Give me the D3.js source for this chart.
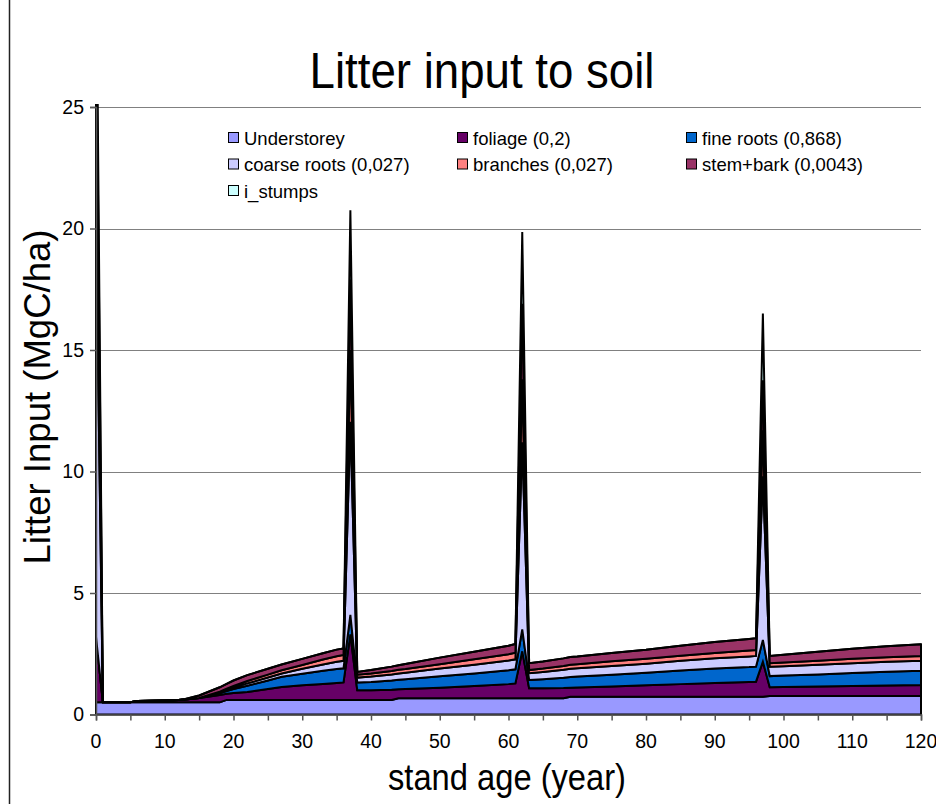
<!DOCTYPE html>
<html>
<head>
<meta charset="utf-8">
<script src="https://cdn.jsdelivr.net/npm/d3@7"></script>
<style>
  html, body { margin: 0; padding: 0; background: #fff; }
  svg { display: block; font-family: "Liberation Sans", Arial, sans-serif; }
</style>
</head>
<body>
<svg id="chart" width="936" height="804"></svg>
<script>
// Stand age (years) at which litter inputs are given
const ages = [0, 1, 2, 5, 6, 10, 12, 13, 15, 18, 19, 20, 22, 25, 27, 30, 33, 35, 36, 37, 38, 40, 43, 44, 45, 50,
  55, 60, 61, 62, 63, 65, 68, 69, 70, 75, 80, 85, 90, 95, 96, 97, 98, 100, 105, 110, 115, 120];

// Litter input per pool (MgC/ha), one value per age above
const understorey = [0.5, 0.5, 0.5, 0.5, 0.5, 0.5, 0.5, 0.5, 0.5, 0.5, 0.6, 0.6, 0.6, 0.6, 0.6, 0.6, 0.6, 0.6, 0.6, 0.6, 0.6, 0.6, 0.6, 0.67, 0.67, 0.67,
  0.67, 0.67, 0.67, 0.67, 0.67, 0.67, 0.67, 0.73, 0.73, 0.73, 0.73, 0.73, 0.73, 0.73, 0.73, 0.73, 0.76, 0.76, 0.76, 0.76, 0.76, 0.76];
const foliage = [2.7, 0, 0, 0, 0.06, 0.08, 0.1, 0.12, 0.18, 0.3, 0.25, 0.28, 0.33, 0.45, 0.53, 0.6, 0.66, 0.7, 0.72, 2.7, 0.4, 0.4, 0.42, 0.37, 0.38, 0.43,
  0.5, 0.58, 0.61, 1.93, 0.41, 0.41, 0.42, 0.37, 0.38, 0.42, 0.47, 0.52, 0.57, 0.61, 0.62, 1.44, 0.36, 0.37, 0.39, 0.41, 0.43, 0.45];
const fineRoots = [0, 0, 0, 0, 0, 0, 0, 0, 0, 0.08, 0.12, 0.17, 0.25, 0.35, 0.42, 0.48, 0.54, 0.57, 0.58, 0.8, 0.32, 0.34, 0.38, 0.39, 0.4, 0.47,
  0.52, 0.57, 0.58, 0.9, 0.34, 0.37, 0.42, 0.44, 0.45, 0.49, 0.52, 0.56, 0.59, 0.61, 0.62, 0.9, 0.46, 0.47, 0.5, 0.54, 0.57, 0.59];
const coarseRoots = [17.0, 0, 0, 0, 0, 0, 0, 0, 0, 0.04, 0.05, 0.07, 0.1, 0.12, 0.14, 0.2, 0.26, 0.3, 0.31, 7.95, 0.2, 0.22, 0.25, 0.26, 0.27, 0.32,
  0.36, 0.4, 0.41, 7.7, 0.28, 0.3, 0.33, 0.34, 0.34, 0.36, 0.37, 0.4, 0.42, 0.44, 0.44, 6.73, 0.39, 0.39, 0.4, 0.4, 0.41, 0.41];
const branches = [6.0, 0, 0, 0, 0, 0, 0, 0, 0, 0.02, 0.04, 0.06, 0.1, 0.12, 0.13, 0.16, 0.2, 0.23, 0.24, 2.95, 0.12, 0.13, 0.14, 0.15, 0.15, 0.18,
  0.22, 0.26, 0.27, 2.6, 0.13, 0.14, 0.16, 0.17, 0.17, 0.19, 0.2, 0.21, 0.22, 0.24, 0.24, 1.9, 0.14, 0.15, 0.16, 0.18, 0.19, 0.2];
const stemBark = [4.0, 0, 0, 0, 0, 0, 0, 0.02, 0.1, 0.18, 0.2, 0.22, 0.24, 0.24, 0.24, 0.25, 0.26, 0.27, 0.27, 2.9, 0.11, 0.14, 0.18, 0.19, 0.21, 0.27,
  0.31, 0.35, 0.36, 3.1, 0.28, 0.29, 0.31, 0.32, 0.32, 0.34, 0.37, 0.41, 0.45, 0.48, 0.49, 2.05, 0.3, 0.32, 0.37, 0.42, 0.45, 0.48];
const stumps = [3.0, 0, 0, 0, 0, 0, 0, 0, 0, 0, 0, 0, 0, 0, 0, 0, 0, 0, 0, 2.85, 0, 0, 0, 0, 0, 0,
  0, 0, 0, 2.96, 0, 0, 0, 0, 0, 0, 0, 0, 0, 0, 0, 2.75, 0, 0, 0, 0, 0, 0];

const seriesNames = ["Understorey", "foliage (0,2)", "fine roots (0,868)", "coarse roots (0,027)",
  "branches (0,027)", "stem+bark (0,0043)", "i_stumps"];
const seriesValues = [understorey, foliage, fineRoots, coarseRoots, branches, stemBark, stumps];
const seriesColors = ["#9999FF", "#660066", "#0066CC", "#CCCCFF", "#FF8080", "#993366", "#CCFFFF"];

const yTicks = [0, 5, 10, 15, 20, 25];
const xTickLabels = [0, 10, 20, 30, 40, 50, 60, 70, 80, 90, 100, 110, 120];
const xMinorTicks = d3.range(0, 121, 5);

const svg = d3.select("#chart");
const x = d3.scaleLinear().domain([0, 120]).range([96, 921]);
const y = d3.scaleLinear().domain([0, 25]).range([714.5, 107]);

// outer frame edge of the chart area
svg.append("line").attr("x1", 9.5).attr("x2", 9.5).attr("y1", 0).attr("y2", 804)
  .attr("stroke", "#222").attr("stroke-width", 1.5);

// title
svg.append("text").attr("x", 482).attr("y", 88).attr("text-anchor", "middle")
  .attr("font-size", 50).attr("textLength", 345).attr("lengthAdjust", "spacingAndGlyphs")
  .text("Litter input to soil");

// horizontal gridlines
svg.append("g").selectAll("line").data(yTicks.filter(d => d > 0)).join("line")
  .attr("x1", x(0)).attr("x2", x(120))
  .attr("y1", d => Math.round(y(d)) + 0.5).attr("y2", d => Math.round(y(d)) + 0.5)
  .attr("stroke", "#808080").attr("stroke-width", 1);

// stacked areas
const rows = ages.map((a, i) => {
  const r = { age: a };
  seriesNames.forEach((n, k) => { r[n] = seriesValues[k][i]; });
  return r;
});
const stacked = d3.stack().keys(seriesNames)(rows);

svg.append("clipPath").attr("id", "plotClip").append("rect")
  .attr("x", x(0) - 2).attr("y", y(25) - 3).attr("width", x(120) - x(0) + 4).attr("height", y(0) - y(25) + 6);

const area = d3.area()
  .x(d => x(d.data.age)).y0(d => y(d[0])).y1(d => y(d[1]));

svg.append("g").attr("clip-path", "url(#plotClip)")
  .selectAll("path").data(stacked).join("path")
  .attr("d", area)
  .attr("fill", (d, i) => seriesColors[i])
  .attr("stroke", "#000").attr("stroke-width", 2).attr("stroke-linejoin", "miter");

// axes
const xAxis = d3.axisBottom(x).tickValues(xMinorTicks).tickSize(6).tickFormat("");
const gx = svg.append("g").attr("transform", `translate(0,${y(0)})`).call(xAxis);
gx.select(".domain").attr("stroke", "#555").attr("stroke-width", 1.5);
gx.selectAll(".tick line").attr("stroke", "#555").attr("stroke-width", 1.5);

svg.append("g").selectAll("text").data(xTickLabels).join("text")
  .attr("x", d => x(d)).attr("y", 748).attr("text-anchor", "middle")
  .attr("font-size", 19.5).text(d => d);

const yAxis = d3.axisLeft(y).tickValues(yTicks).tickSize(6).tickFormat("");
const gy = svg.append("g").attr("transform", `translate(${x(0)},0)`).call(yAxis);
gy.select(".domain").attr("stroke", "#555").attr("stroke-width", 1.5);
gy.selectAll(".tick line").attr("stroke", "#555").attr("stroke-width", 1.5);

svg.append("g").selectAll("text").data(yTicks).join("text")
  .attr("x", 84).attr("y", d => y(d)).attr("dy", "0.35em").attr("text-anchor", "end")
  .attr("font-size", 19.5).text(d => d);

// axis titles
svg.append("text").attr("x", 507).attr("y", 790).attr("text-anchor", "middle")
  .attr("font-size", 37).attr("textLength", 238).attr("lengthAdjust", "spacingAndGlyphs")
  .text("stand age (year)");

svg.append("text").attr("transform", "translate(50,397) rotate(-90)").attr("text-anchor", "middle")
  .attr("font-size", 37).attr("textLength", 335).attr("lengthAdjust", "spacingAndGlyphs")
  .text("Litter Input (MgC/ha)");

// legend
const legendCols = [228, 457, 686];
const legendRows = [138, 164.5, 191];
const legend = svg.append("g");
seriesNames.forEach((n, i) => {
  const cx = legendCols[i % 3], cy = legendRows[Math.floor(i / 3)];
  legend.append("rect").attr("x", cx + 0.5).attr("y", cy - 5.5).attr("width", 10).attr("height", 10)
    .attr("fill", seriesColors[i]).attr("stroke", "#000").attr("stroke-width", 1);
  legend.append("text").attr("x", cx + 16).attr("y", cy).attr("dy", "0.36em")
    .attr("font-size", 18.5).text(n);
});
</script>
</body>
</html>
